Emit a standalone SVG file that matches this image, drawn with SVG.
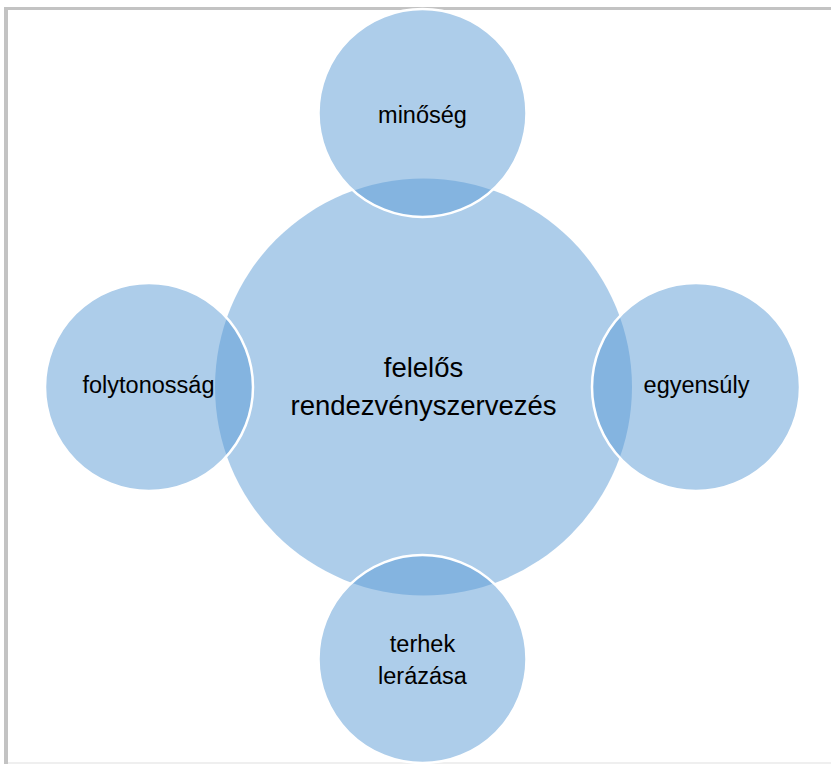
<svg xmlns="http://www.w3.org/2000/svg" width="831" height="764" viewBox="0 0 831 764">
<style>
.c{fill:#5B9BD5;fill-opacity:0.5}
.s{stroke:#ffffff;stroke-width:2.5}
.t{font-family:"Liberation Sans",Arial,sans-serif;font-size:23.5px;fill:#000;text-anchor:middle}
.big{font-size:27.5px}
</style>
<rect x="0" y="0" width="831" height="764" fill="#ffffff"/>
<g id="frame">
<rect x="4" y="7" width="827" height="3" fill="#c3c3c3"/>
<rect x="4" y="7" width="4" height="757" fill="#c3c3c3"/>
<rect x="8" y="762" width="823" height="2" fill="#efefef"/>
</g>
<g id="connectors"></g>
<g id="center">
<circle class="c" cx="423.5" cy="387" r="208.5"/>
<text class="t big" x="423.5" y="377">felelős</text>
<text class="t big" x="423.5" y="415">rendezvényszervezés</text>
</g>
<g id="top">
<circle class="c s" cx="422.5" cy="113" r="104"/>
<text class="t" x="422.5" y="123">minőség</text>
</g>
<g id="left">
<circle class="c s" cx="149" cy="387" r="104"/>
<text class="t" x="148.5" y="393">folytonosság</text>
</g>
<g id="right">
<circle class="c s" cx="696" cy="387" r="104"/>
<text class="t" x="696.5" y="393">egyensúly</text>
</g>
<g id="bottom">
<circle class="c s" cx="422.5" cy="659" r="104"/>
<text class="t" x="422.5" y="652">terhek</text>
<text class="t" x="422.5" y="684">lerázása</text>
</g>
</svg>
